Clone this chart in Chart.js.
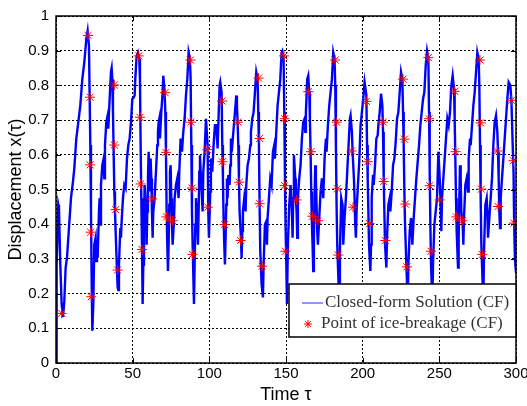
<!DOCTYPE html>
<html>
<head>
<meta charset="utf-8">
<script src="https://cdn.jsdelivr.net/npm/chart.js@4.4.0/dist/chart.umd.min.js"></script>
<style>
  html, body { margin: 0; padding: 0; background: #fff; }
</style>
</head>
<body>
<canvas id="chart" width="527" height="406"></canvas>
<script>
// tick values
const xTicks = [0, 50, 100, 150, 200, 250, 300];
const yTicks = [0, 0.1, 0.2, 0.3, 0.4, 0.5, 0.6, 0.7, 0.8, 0.9, 1];

// closed-form solution x(tau) as [tau, x]
const curve = [
  [0,0],[0.2,0.055],[0.63,0.284],[1.5,0.456],[1.94,0.446],[2.81,0.284],[3.68,0.170],[4.55,0.132],[5.42,0.179],[6.29,0.275],
  [7.16,0.303],[8.46,0.389],[9.76,0.475],[11.07,0.523],[11.94,0.561],[13.24,0.647],[14.55,0.694],[15.85,0.742],[17.16,0.818],[18.46,0.866],
  [19.76,0.933],[20.63,0.957],[21.5,0.914],[21.94,0.771],[22.37,0.628],[22.81,0.437],[23.24,0.246],[23.68,0.093],[24.33,0.170],[24.98,0.341],
  [25.85,0.361],[26.29,0.294],[26.72,0.341],[27.16,0.303],[28.03,0.437],[28.46,0.475],[28.9,0.399],[29.33,0.513],[30.2,0.570],[31.07,0.589],
  [31.5,0.532],[31.94,0.628],[32.81,0.694],[33.68,0.713],[34.11,0.675],[34.98,0.761],[35.85,0.84],[36.29,0.85],[36.72,0.818],[37.16,0.723],
  [37.59,0.609],[38.03,0.494],[38.46,0.437],[39.33,0.322],[40.2,0.217],[40.6,0.21],[41.07,0.284],[41.94,0.389],[42.37,0.361],[42.81,0.408],
  [43.68,0.475],[44.55,0.513],[45.42,0.504],[46.29,0.589],[47.16,0.628],[48.03,0.647],[48.9,0.694],[49.77,0.761],[50.4,0.763],[51.28,0.771],
  [51.71,0.818],[52.58,0.885],[53.45,0.895],[54.32,0.876],[54.76,0.818],[55.19,0.628],[55.63,0.475],[56.06,0.341],[56.5,0.170],[56.93,0.284],
  [57.37,0.399],[57.8,0.513],[58.67,0.456],[59.1,0.341],[59.54,0.437],[59.97,0.532],[60.41,0.609],[60.84,0.551],[61.28,0.494],[61.71,0.589],
  [62.15,0.532],[62.58,0.437],[63.02,0.361],[63.45,0.437],[64.32,0.475],[65.19,0.551],[66.06,0.628],[66.5,0.666],[66.93,0.694],[67.37,0.704],
  [67.8,0.647],[68.24,0.685],[68.67,0.723],[69.54,0.780],[69.97,0.828],[70.84,0.780],[71.28,0.723],[71.71,0.609],[72.15,0.437],[72.58,0.341],
  [73.02,0.265],[73.45,0.341],[73.89,0.456],[74.32,0.551],[74.76,0.570],[75.19,0.475],[75.63,0.399],[76.06,0.341],[76.93,0.408],[77.37,0.475],
  [78.24,0.513],[79.1,0.532],[79.97,0.475],[80.41,0.551],[81.28,0.647],[82.15,0.609],[83.02,0.666],[83.89,0.704],[84.76,0.771],[85.63,0.818],
  [86.5,0.895],[87.37,0.876],[87.8,0.818],[88.24,0.628],[88.67,0.437],[89.11,0.341],[89.98,0.170],[90.41,0.284],[90.85,0.399],[91.28,0.475],
  [92.15,0.408],[92.58,0.341],[93.02,0.437],[93.45,0.551],[93.89,0.599],[94.76,0.513],[95.63,0.437],[96.06,0.551],[96.93,0.609],[97.8,0.704],
  [98.87,0.628],[99.3,0.437],[99.74,0.361],[100.61,0.494],[101.04,0.589],[101.91,0.551],[102.78,0.628],[103.65,0.685],[104.52,0.685],[105.39,0.618],
  [106.26,0.742],[106.7,0.799],[107.13,0.809],[108.0,0.780],[108.44,0.628],[108.87,0.532],[109.3,0.418],[109.74,0.341],[110.17,0.284],[110.61,0.361],
  [111.04,0.456],[111.48,0.532],[111.91,0.475],[112.35,0.542],[113.22,0.513],[113.65,0.570],[114.09,0.647],[114.96,0.628],[115.83,0.675],[116.7,0.723],
  [117.57,0.771],[118.0,0.742],[118.44,0.694],[118.87,0.628],[119.31,0.532],[119.74,0.437],[120.61,0.361],[121.04,0.303],[121.48,0.380],[121.91,0.437],
  [122.78,0.475],[123.65,0.437],[124.09,0.513],[124.96,0.570],[125.83,0.589],[126.7,0.628],[127.13,0.666],[128.0,0.704],[128.87,0.723],[129.74,0.780],
  [130.61,0.838],[131.48,0.818],[131.91,0.723],[132.35,0.628],[132.78,0.456],[133.22,0.322],[134.09,0.227],[134.96,0.189],[135.39,0.284],[136.26,0.399],
  [137.13,0.408],[137.57,0.341],[138.0,0.418],[138.87,0.475],[139.74,0.532],[140.61,0.513],[141.48,0.609],[142.35,0.628],[142.78,0.589],[143.65,0.666],
  [144.52,0.742],[145.39,0.780],[146.26,0.818],[147.13,0.895],[147.57,0.899],[148.44,0.876],[148.87,0.723],[149.31,0.532],[149.74,0.389],[150.17,0.294],
  [150.61,0.170],[151.24,0.341],[152.11,0.456],[152.98,0.513],[153.85,0.437],[154.29,0.361],[154.72,0.475],[155.16,0.599],[156.03,0.532],[156.46,0.475],
  [156.9,0.437],[157.33,0.361],[157.77,0.475],[158.64,0.532],[159.5,0.570],[160.37,0.647],[161.24,0.694],[162.11,0.704],[162.55,0.666],[162.98,0.723],
  [163.85,0.818],[164.5,0.828],[165.16,0.780],[165.59,0.704],[166.03,0.609],[166.46,0.494],[166.9,0.399],[167.33,0.341],[167.77,0.265],[168.2,0.361],
  [168.64,0.475],[169.07,0.570],[169.5,0.532],[169.94,0.456],[170.37,0.380],[170.81,0.341],[171.68,0.418],[172.55,0.494],[173.42,0.532],[174.29,0.475],
  [175.16,0.589],[176.03,0.647],[176.46,0.609],[177.33,0.685],[178.2,0.742],[179.07,0.780],[179.94,0.818],[180.81,0.895],[181.68,0.876],[182.11,0.799],
  [182.55,0.628],[182.98,0.456],[183.42,0.341],[184.29,0.227],[184.9,0.17],[185.16,0.322],[186.03,0.475],[186.9,0.456],[187.33,0.341],[188.2,0.418],
  [189.07,0.475],[189.94,0.551],[190.81,0.628],[191.68,0.704],[192.11,0.713],[192.98,0.666],[193.42,0.609],[194.29,0.532],[194.72,0.475],[195.16,0.399],
  [195.59,0.361],[196.03,0.437],[196.9,0.513],[197.77,0.580],[198.64,0.685],[199.51,0.723],[200.38,0.761],[201.25,0.809],[202.41,0.771],[202.85,0.628],
  [203.28,0.532],[203.72,0.437],[204.15,0.341],[205.02,0.265],[205.46,0.341],[205.89,0.475],[206.76,0.542],[207.2,0.513],[208.07,0.570],[208.94,0.647],
  [209.8,0.656],[210.24,0.685],[211.11,0.723],[211.98,0.776],[212.85,0.742],[213.28,0.666],[213.72,0.532],[214.15,0.437],[214.59,0.341],[215.46,0.275],
  [215.89,0.361],[216.76,0.456],[217.63,0.475],[218.07,0.437],[218.94,0.494],[219.81,0.570],[220.67,0.589],[221.54,0.637],[222.41,0.704],[223.28,0.723],
  [224.15,0.780],[225.02,0.838],[225.89,0.818],[226.33,0.723],[226.76,0.628],[227.2,0.494],[227.63,0.399],[228.5,0.284],[228.94,0.227],[229.4,0.18],
  [229.81,0.284],[230.68,0.380],[231.54,0.418],[232.41,0.341],[233.28,0.418],[234.15,0.475],[235.02,0.532],[235.89,0.580],[236.76,0.628],[237.63,0.685],
  [238.5,0.723],[239.37,0.761],[240.24,0.780],[241.11,0.857],[241.98,0.899],[242.85,0.876],[243.28,0.723],[243.72,0.551],[244.15,0.399],[244.59,0.284],
  [245.02,0.227],[245.4,0.17],[245.89,0.284],[246.76,0.399],[247.63,0.437],[248.5,0.475],[249.37,0.609],[250.24,0.532],[250.68,0.475],[251.31,0.380],
  [251.74,0.475],[252.61,0.532],[253.48,0.589],[254.35,0.647],[255.22,0.704],[256.09,0.685],[256.96,0.723],[257.83,0.799],[258.7,0.828],[259.57,0.790],
  [260.0,0.704],[260.44,0.589],[260.87,0.475],[261.31,0.380],[262.18,0.275],[262.61,0.361],[263.05,0.475],[263.48,0.570],[263.92,0.532],[264.35,0.437],
  [265.22,0.399],[265.66,0.341],[266.09,0.418],[266.96,0.513],[267.83,0.532],[268.7,0.494],[269.14,0.589],[270.01,0.647],[270.44,0.628],[271.31,0.685],
  [272.18,0.742],[273.05,0.780],[273.92,0.838],[274.79,0.895],[275.66,0.876],[276.09,0.799],[276.53,0.628],[276.96,0.475],[277.4,0.341],[278.27,0.227],
  [278.7,0.17],[279.14,0.322],[280.01,0.456],[280.88,0.475],[281.31,0.437],[281.74,0.361],[282.61,0.418],[283.48,0.475],[284.35,0.532],[285.22,0.628],
  [286.09,0.694],[286.96,0.713],[287.83,0.666],[288.27,0.609],[288.7,0.532],[289.14,0.437],[289.57,0.389],[290.01,0.475],[290.88,0.532],[291.75,0.589],
  [292.62,0.647],[293.48,0.704],[294.35,0.761],[295.22,0.809],[296.3,0.80],[297.0,0.757],[297.9,0.62],[298.4,0.55],[298.8,0.40],[299.3,0.30],
  [300,0.26]
];

// points of ice-breakage, [tau, x]
const breaks = [
  [3.7,0.143],
  [20.9,0.944],[22.2,0.766],[22.2,0.571],[22.6,0.377],[23.0,0.191],
  [38.0,0.801],[38.0,0.628],[38.9,0.442],[40.2,0.268],
  [53.9,0.885],[54.8,0.708],[55.2,0.516],[56.1,0.327],[62.6,0.473],
  [71.1,0.779],[71.7,0.607],[72.1,0.421],[76.0,0.410],
  [87.6,0.873],[88.0,0.694],[88.7,0.504],[89.1,0.313],[98.7,0.615],[99.1,0.449],
  [108.3,0.755],[108.5,0.580],[110.0,0.399],
  [118.7,0.694],[119.5,0.521],[120.4,0.353],
  [132.1,0.821],[132.8,0.647],[132.8,0.459],[134.4,0.279],
  [148.7,0.885],[149.1,0.704],[149.1,0.511],[149.6,0.322],[156.9,0.470],
  [164.5,0.782],[166.3,0.609],[167.2,0.423],[170.9,0.410],
  [182.0,0.873],[183.0,0.694],[183.5,0.502],[184.1,0.311],[192.8,0.611],[193.7,0.449],
  [202.4,0.754],[203.2,0.580],[204.5,0.402],
  [213.3,0.694],[213.7,0.523],[214.8,0.353],
  [226.3,0.818],[227.2,0.645],[227.8,0.458],[228.9,0.277],
  [242.8,0.880],[243.3,0.704],[243.7,0.511],[244.6,0.322],[250.2,0.470],
  [260.0,0.783],[260.6,0.609],[261.1,0.421],[265.0,0.410],
  [276.5,0.873],[276.9,0.692],[277.4,0.501],[278.0,0.313],[287.8,0.611],[288.3,0.451],
  [297.0,0.757],[298.3,0.583],[298.7,0.403]
];

const seriesNames = ['Closed-form Solution (CF)', 'Point of ice-breakage (CF)'];
const lineColor = '#0000ff';
const starColor = '#ff0000';

const sans = '"Liberation Sans", Arial, Helvetica, sans-serif';

// MATLAB-like frame, inner tick marks and the boxed legend
const frameLegend = {
  id: 'frameLegend',
  afterDatasetsDraw(chart) {
    const { ctx, chartArea: a, scales } = chart;
    const sx = scales.x, sy = scales.y;
    ctx.save();
    ctx.strokeStyle = '#000';
    ctx.lineWidth = 1;
    ctx.beginPath();
    xTicks.forEach(v => {
      const px = Math.round(sx.getPixelForValue(v)) + 0.5;
      ctx.moveTo(px, a.bottom); ctx.lineTo(px, a.bottom - 5);
      ctx.moveTo(px, a.top); ctx.lineTo(px, a.top + 5);
    });
    yTicks.forEach(v => {
      const py = Math.round(sy.getPixelForValue(v)) + 0.5;
      ctx.moveTo(a.left, py); ctx.lineTo(a.left + 5, py);
      ctx.moveTo(a.right, py); ctx.lineTo(a.right - 5, py);
    });
    ctx.stroke();
    ctx.lineWidth = 1.5;
    ctx.strokeRect(a.left, a.top, a.right - a.left, a.bottom - a.top);

    // legend box
    const lw = 227, lh = 53;
    const lx = a.right - lw, ly = a.bottom - 79;
    ctx.fillStyle = '#fff';
    ctx.fillRect(lx, ly, lw, lh);
    ctx.lineWidth = 1.5;
    ctx.strokeStyle = '#000';
    ctx.strokeRect(lx, ly, lw, lh);

    ctx.strokeStyle = lineColor;
    ctx.globalAlpha = 0.7;
    ctx.lineWidth = 1.2;
    ctx.beginPath();
    ctx.moveTo(lx + 13, ly + 19); ctx.lineTo(lx + 34, ly + 19);
    ctx.stroke();
    ctx.globalAlpha = 1;

    ctx.strokeStyle = starColor;
    ctx.fillStyle = starColor;
    ctx.lineWidth = 1;
    Chart.helpers.drawPoint(ctx, { pointStyle: 'star', radius: 4, rotation: 0, borderWidth: 1 }, lx + 19, ly + 40);

    ctx.fillStyle = '#333';
    ctx.font = '17px "Liberation Serif", "Times New Roman", serif';
    ctx.textBaseline = 'middle';
    ctx.textAlign = 'left';
    ctx.fillText(seriesNames[0], lx + 36, ly + 19);
    ctx.fillText(seriesNames[1], lx + 32, ly + 40);
    ctx.restore();
  }
};

new Chart(document.getElementById('chart').getContext('2d'), {
  type: 'line',
  data: {
    datasets: [
      {
        label: seriesNames[1],
        type: 'scatter',
        data: breaks.map(p => ({ x: p[0], y: p[1] })),
        pointStyle: 'star',
        pointRadius: 5,
        borderColor: starColor,
        backgroundColor: starColor,
        pointBorderWidth: 1,
        order: 0
      },
      {
        label: seriesNames[0],
        data: curve.map(p => ({ x: p[0], y: p[1] })),
        borderColor: lineColor,
        borderWidth: 2.4,
        pointRadius: 0,
        tension: 0,
        fill: false,
        order: 1
      }
    ]
  },
  options: {
    responsive: false,
    animation: false,
    devicePixelRatio: 1,
    layout: { padding: { top: 13, right: 11, left: 0, bottom: 0 } },
    plugins: { legend: { display: false }, tooltip: { enabled: false } },
    scales: {
      x: {
        type: 'linear',
        min: 0, max: 300,
        afterBuildTicks: s => { s.ticks = xTicks.map(v => ({ value: v })); },
        afterFit: s => { s.height = 43; s.paddingLeft = 0; s.paddingRight = 0; },
        grid: { color: '#000', lineWidth: 1, drawTicks: false },
        border: { display: false, dash: [2, 2] },
        ticks: { color: '#000', padding: 2, maxRotation: 0, font: { family: sans, size: 15 } },
        title: { display: true, text: 'Time τ', color: '#000', padding: { top: 0, bottom: 0 }, font: { family: sans, size: 18 } }
      },
      y: {
        min: 0, max: 1,
        afterBuildTicks: s => { s.ticks = yTicks.map(v => ({ value: v })); },
        afterFit: s => { s.width = 56; },
        grid: { color: '#000', lineWidth: 1, drawTicks: false },
        border: { display: false, dash: [2, 2] },
        ticks: { color: '#000', padding: 7, font: { family: sans, size: 15 }, callback: v => +v.toFixed(1) },
        title: { display: true, text: 'Displacement x(τ)', color: '#000', padding: { top: 5, bottom: 0 }, font: { family: sans, size: 18 } }
      }
    }
  },
  plugins: [frameLegend]
});
</script>
</body>
</html>
